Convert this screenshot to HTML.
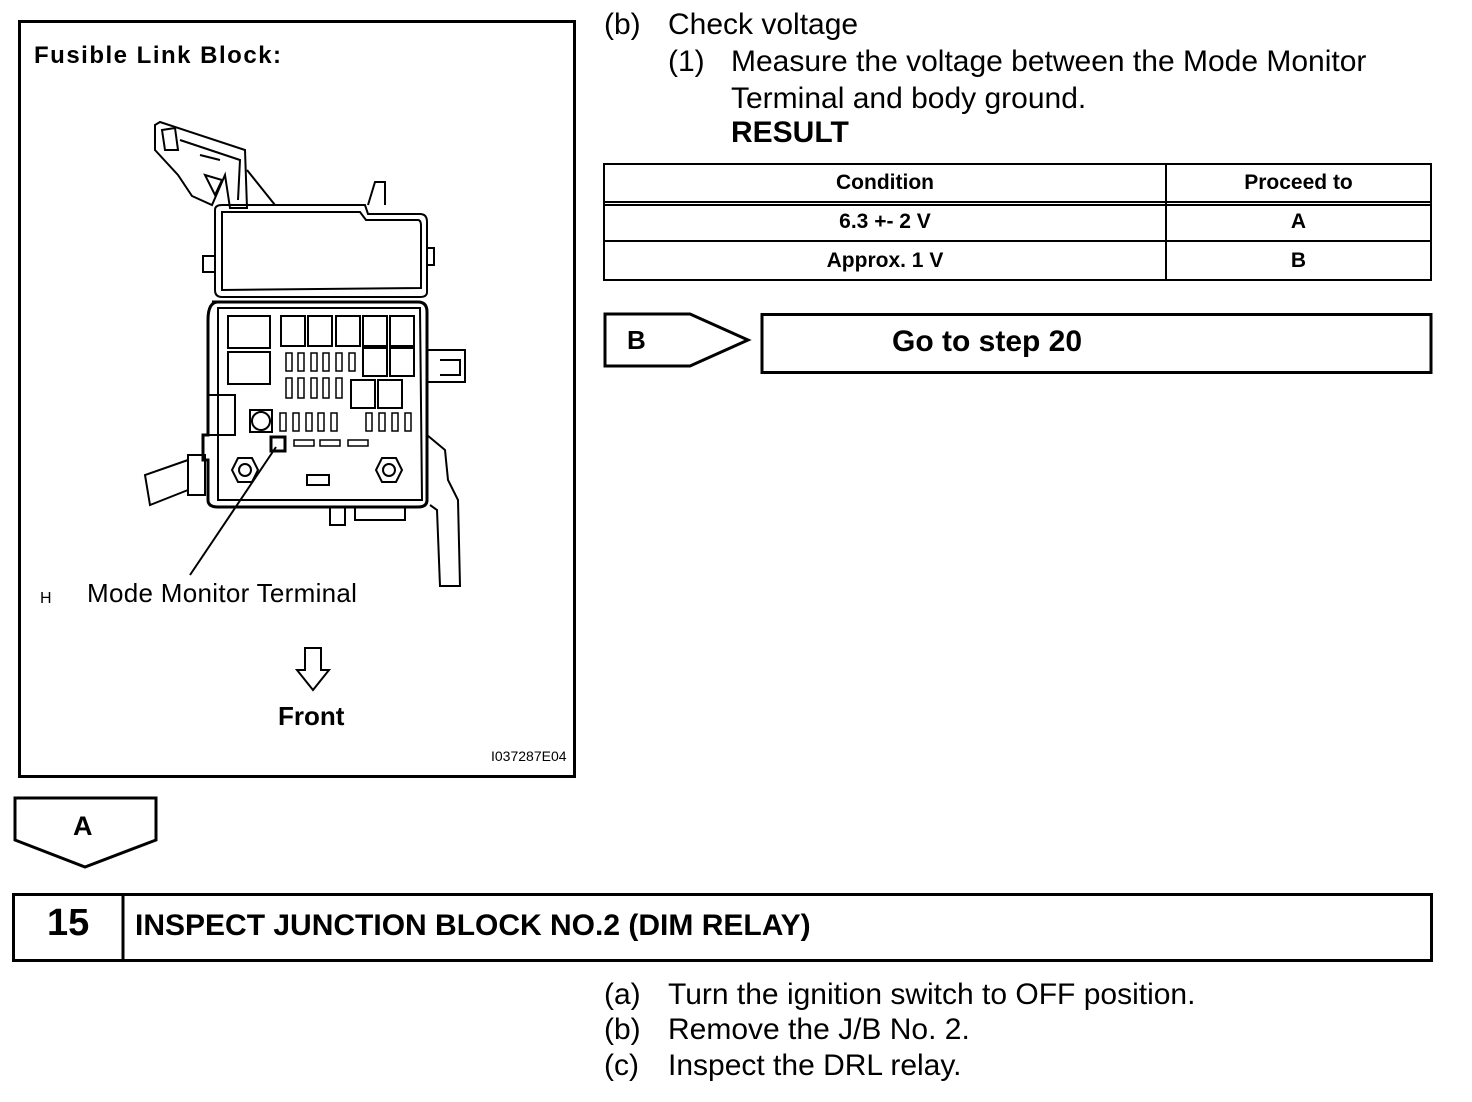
<!DOCTYPE html>
<html><head><style>
body{margin:0;width:1472px;height:1102px;background:#fff;position:relative;font-family:"Liberation Sans",Arial,sans-serif;color:#000;overflow:hidden}
.t{position:absolute;white-space:nowrap;font-size:30px}
.b{font-weight:bold}
</style></head><body>
<svg width="1472" height="1102" style="position:absolute;left:0;top:0" fill="none" stroke="#000">
<rect x="19.5" y="21.5" width="555" height="755" stroke-width="3"/>
<g stroke-width="2">
<path d="M155 125 L160 122 L245 150 L247 208 L230 208 L225 175 L212 205 L192 196 L178 175 L155 150 Z"/>
<path d="M162 130 L175 128 L178 150 L165 150 Z"/>
<path d="M180 140 L240 160 L238 200 M200 155 L220 160 M205 175 L222 180 L215 195 Z"/>
<path d="M247 170 L275 205"/>
<path d="M368 205 L375 182 L385 182 L385 205"/>
<path d="M215 210 Q215 205 222 205 L365 205 L368 214 L420 214 Q427 214 427 222 L427 292 Q427 297 420 297 L222 297 Q215 297 215 290 Z"/>
<path d="M222 212 L360 212 L366 220 L418 220 Q421 220 421 226 L421 288 L222 290 Z"/>
<path d="M203 256 L215 256 L215 272 L203 272 Z M427 248 L434 248 L434 265 L427 265 Z"/>
<path d="M212 302 L418 302 Q427 302 427 312 L427 500 Q427 507 418 507 L218 507 Q208 507 208 500 L208 460 L203 460 L203 435 L208 435 L208 320 Q208 302 218 302 Z" stroke-width="3"/>
<path d="M218 308 L420 308 L422 500 L218 500 Z"/>
<rect x="228" y="316" width="42" height="32"/>
<rect x="228" y="352" width="42" height="32"/>
<rect x="281" y="316" width="24" height="30"/><rect x="308" y="316" width="24" height="30"/><rect x="336" y="316" width="24" height="30"/><rect x="363" y="316" width="24" height="30"/><rect x="390" y="316" width="24" height="30"/>
<rect x="363" y="348" width="24" height="28"/><rect x="390" y="348" width="24" height="28"/>
<rect x="351" y="380" width="24" height="28"/><rect x="378" y="380" width="24" height="28"/>
<g stroke-width="1.5">
<rect x="286" y="353" width="6" height="18"/><rect x="298" y="353" width="6" height="18"/><rect x="311" y="353" width="6" height="18"/><rect x="323" y="353" width="6" height="18"/><rect x="336" y="353" width="6" height="18"/><rect x="349" y="353" width="6" height="18"/>
<rect x="286" y="378" width="6" height="20"/><rect x="298" y="378" width="6" height="20"/><rect x="311" y="378" width="6" height="20"/><rect x="323" y="378" width="6" height="20"/><rect x="336" y="378" width="6" height="20"/>
<rect x="280" y="413" width="6" height="18"/><rect x="293" y="413" width="6" height="18"/><rect x="306" y="413" width="6" height="18"/><rect x="318" y="413" width="6" height="18"/><rect x="331" y="413" width="6" height="18"/>
<rect x="366" y="413" width="6" height="18"/><rect x="379" y="413" width="6" height="18"/><rect x="392" y="413" width="6" height="18"/><rect x="405" y="413" width="6" height="18"/>
<rect x="294" y="440" width="20" height="6"/><rect x="320" y="440" width="20" height="6"/><rect x="348" y="440" width="20" height="6"/>
</g>
<rect x="250" y="410" width="22" height="22"/><circle cx="261" cy="421" r="9"/>
<path d="M208 395 L235 395 L235 435 L208 435"/>
<rect x="271" y="437" width="14" height="14" stroke-width="3"/>
<path d="M238 458 L252 458 L258 470 L252 482 L238 482 L232 470 Z"/><circle cx="245" cy="470" r="6"/>
<path d="M382 458 L396 458 L402 470 L396 482 L382 482 L376 470 Z"/><circle cx="389" cy="470" r="6"/>
<rect x="307" y="475" width="22" height="10"/>
<path d="M330 507 L330 525 L345 525 L345 507 M355 507 L355 520 L405 520 L405 507"/>
<path d="M188 455 L205 455 L205 495 L188 495 Z M188 460 L145 475 L150 505 L188 490"/>
<path d="M427 350 L465 350 L465 382 L427 382 M440 360 L460 360 L460 375 L440 375"/>
<path d="M427 435 L445 450 L448 480 L458 500 L460 586 L440 586 L437 510 L430 505"/>
<path d="M276 447 L190 575" stroke-width="2"/>
<path d="M305 648 L321 648 L321 670 L329 670 L313 690 L297 670 L305 670 Z"/>
</g>
<g stroke-width="2">
<rect x="604" y="164" width="827" height="116"/>
<line x1="604" y1="202" x2="1431" y2="202"/><line x1="604" y1="205" x2="1431" y2="205"/>
<line x1="604" y1="241" x2="1431" y2="241"/>
<line x1="1166" y1="164" x2="1166" y2="280"/>
</g>
<path d="M605 314 L690 314 L748 340 L690 366 L605 366 Z" stroke-width="3"/>
<rect x="762" y="314.5" width="669" height="58" stroke-width="3"/>
<path d="M15 798 L156 798 L156 840 L85 867 L15 840 Z" stroke-width="3"/>
<rect x="13.5" y="894.5" width="1418" height="66" stroke-width="3"/>
<line x1="123" y1="894" x2="123" y2="961" stroke-width="3"/>
</svg>
<div class="t b" style="left:34px;top:42px;font-size:24px;letter-spacing:1.5px">Fusible Link Block:</div>
<div class="t" style="left:40px;top:590px;font-size:16px">H</div>
<div class="t" style="left:87px;top:578px;font-size:26px;letter-spacing:0.3px">Mode Monitor Terminal</div>
<div class="t b" style="left:278px;top:701px;font-size:26px">Front</div>
<div class="t" style="left:491px;top:748px;font-size:14px">I037287E04</div>
<div class="t" style="left:604px;top:8px">(b)</div>
<div class="t" style="left:668px;top:8px">Check voltage</div>
<div class="t" style="left:668px;top:45px">(1)</div>
<div class="t" style="left:731px;top:45px">Measure the voltage between the Mode Monitor</div>
<div class="t" style="left:731px;top:82px">Terminal and body ground.</div>
<div class="t b" style="left:731px;top:116px">RESULT</div>
<div class="t b" style="left:604px;top:171px;width:562px;text-align:center;font-size:21px">Condition</div>
<div class="t b" style="left:1166px;top:171px;width:265px;text-align:center;font-size:21px">Proceed to</div>
<div class="t b" style="left:604px;top:210px;width:562px;text-align:center;font-size:21px">6.3 +- 2 V</div>
<div class="t b" style="left:1166px;top:210px;width:265px;text-align:center;font-size:21px">A</div>
<div class="t b" style="left:604px;top:249px;width:562px;text-align:center;font-size:21px">Approx. 1 V</div>
<div class="t b" style="left:1166px;top:249px;width:265px;text-align:center;font-size:21px">B</div>
<div class="t b" style="left:627px;top:325px;font-size:26px">B</div>
<div class="t b" style="left:892px;top:325px">Go to step 20</div>
<div class="t b" style="left:73px;top:811px;font-size:27px">A</div>
<div class="t b" style="left:47px;top:902px;font-size:38px">15</div>
<div class="t b" style="left:135px;top:909px;font-size:30px">INSPECT JUNCTION BLOCK NO.2 (DIM RELAY)</div>
<div class="t" style="left:604px;top:978px">(a)</div>
<div class="t" style="left:668px;top:978px">Turn the ignition switch to OFF position.</div>
<div class="t" style="left:604px;top:1013px">(b)</div>
<div class="t" style="left:668px;top:1013px">Remove the J/B No. 2.</div>
<div class="t" style="left:604px;top:1049px">(c)</div>
<div class="t" style="left:668px;top:1049px">Inspect the DRL relay.</div>
</body></html>
